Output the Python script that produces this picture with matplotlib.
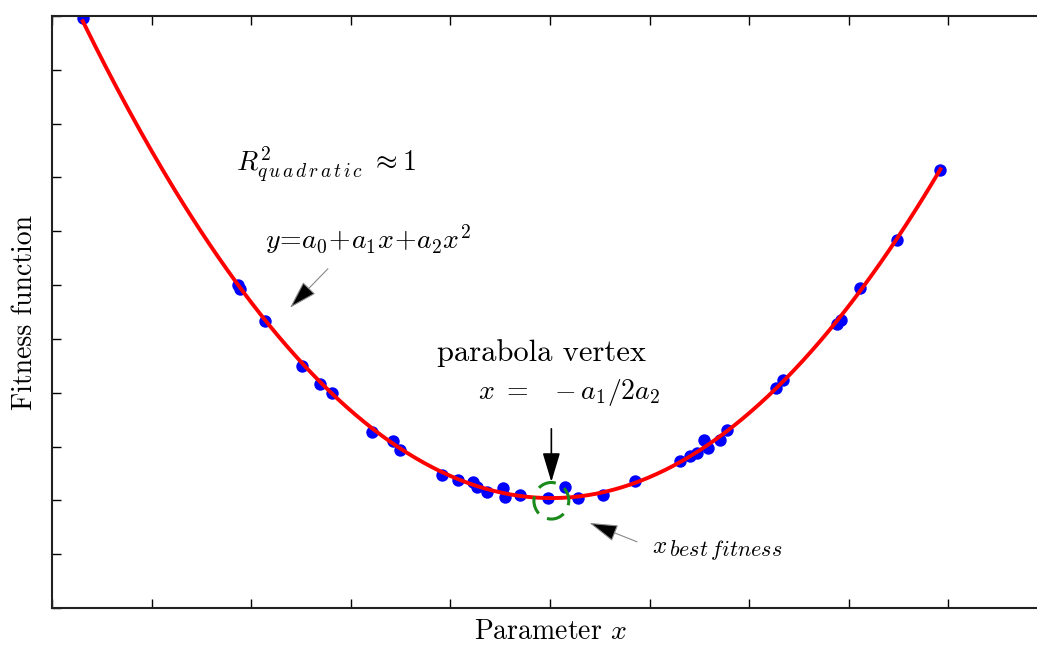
import numpy as np
import matplotlib
matplotlib.use("Agg")
import matplotlib.pyplot as plt
from matplotlib.patches import Ellipse

# ---------------- fonts: Computer Modern look ----------------
plt.rcParams['font.family'] = 'serif'
plt.rcParams['font.serif'] = ['cmr10']
plt.rcParams['mathtext.fontset'] = 'cm'
plt.rcParams['axes.formatter.use_mathtext'] = True

param_x = [0.31, 1.87, 1.89, 2.14, 2.51, 2.69, 2.81, 3.21, 3.42, 3.49,
           3.92, 4.08, 4.23, 4.27, 4.37, 4.53, 4.55, 4.70, 4.98, 5.15,
           5.28, 5.53, 5.85, 6.31, 6.41, 6.48, 6.55, 6.59, 6.71, 6.78,
           7.27, 7.34, 7.88, 7.92, 8.11, 8.48, 8.92]
fitness = [10.97, 6.01, 5.93, 5.33, 4.50, 4.16, 4.00, 3.27, 3.10, 2.94,
           2.47, 2.38, 2.34, 2.25, 2.16, 2.23, 2.06, 2.10, 2.05, 2.25,
           2.05, 2.10, 2.35, 2.73, 2.82, 2.88, 3.12, 2.97, 3.12, 3.31,
           4.09, 4.24, 5.28, 5.35, 5.95, 6.84, 8.14]

# quadratic fit  y = a0 + a1 x + a2 x^2
a2, a1, a0 = np.polyfit(param_x, fitness, 2)
x_fit = np.linspace(min(param_x), max(param_x), 300)
y_fit = a0 + a1 * x_fit + a2 * x_fit ** 2
x_vertex = -a1 / (2 * a2)
y_vertex = a0 + a1 * x_vertex + a2 * x_vertex ** 2

fig = plt.figure(figsize=(10.37, 6.51), dpi=100)
ax = fig.add_axes([0.0501, 0.0661, 0.9605, 0.9094])

ax.scatter(param_x, fitness, s=80, color='#0000ff', zorder=2, linewidths=0)
ax.plot(x_fit, y_fit, color='#ff0000', lw=2.8, zorder=3)

# green dashed circle around the best point
ax.add_patch(Ellipse((x_vertex, y_vertex - 0.05), 0.35, 0.68, fill=False,
                     ec='#1a8a1a', lw=2.2, ls=(1.5, (6, 3.2)), zorder=4))

ax.set_xlim(0, 10)
ax.set_ylim(0, 11)
ax.set_xticks(np.arange(0, 11, 1))
ax.set_yticks(np.arange(0, 12, 1))
ax.tick_params(direction='in', length=6.5, width=1.0, top=True, right=True,
               labelbottom=False, labelleft=False)
for sp in ax.spines.values():
    sp.set_linewidth(1.5)
    sp.set_color('#222222')

ax.set_xlabel('Parameter $x$', fontsize=20, labelpad=8)
ax.set_ylabel('Fitness function', fontsize=20, labelpad=10)

head = '-|>,head_length=0.6,head_width=0.18'

# ---------------- annotations ----------------
ax.text(1.85, 8.23, r'$R^2_{q\,u\,a\,d\,r\,a\,t\,i\,c}\ \approx$1', fontsize=20,
        ha='left', va='center')
ax.text(2.14, 6.84, r'$y\!=\!a_0\!+\!a_1x\!+\!a_2x^2$', fontsize=20,
        ha='left', va='center')
ax.annotate('', xy=(2.37, 5.54), xytext=(2.79, 6.34),
            arrowprops=dict(arrowstyle=head, mutation_scale=30,
                            fc='black', ec='#888888', lw=0.8))

ax.text(3.87, 4.74, 'parabola vertex', fontsize=22, ha='left', va='center')
ax.text(4.28, 4.0, r'$x\ =\ \ -a_1/2a_2$', fontsize=20, ha='left', va='center')
ax.annotate('', xy=(x_vertex, 2.29), xytext=(x_vertex, 3.38),
            arrowprops=dict(arrowstyle=head, mutation_scale=30,
                            fc='black', ec='black', lw=1.2))

ax.text(6.02, 1.14, r'$x$', fontsize=18, ha='left', va='center')
ax.text(6.19, 1.07, r'$best\,fitness$', fontsize=16, ha='left', va='center')
ax.annotate('', xy=(5.37, 1.60), xytext=(5.90, 1.21),
            arrowprops=dict(arrowstyle=head, mutation_scale=30,
                            fc='black', ec='#888888', lw=0.8))

plt.savefig('out.png', dpi=100)
